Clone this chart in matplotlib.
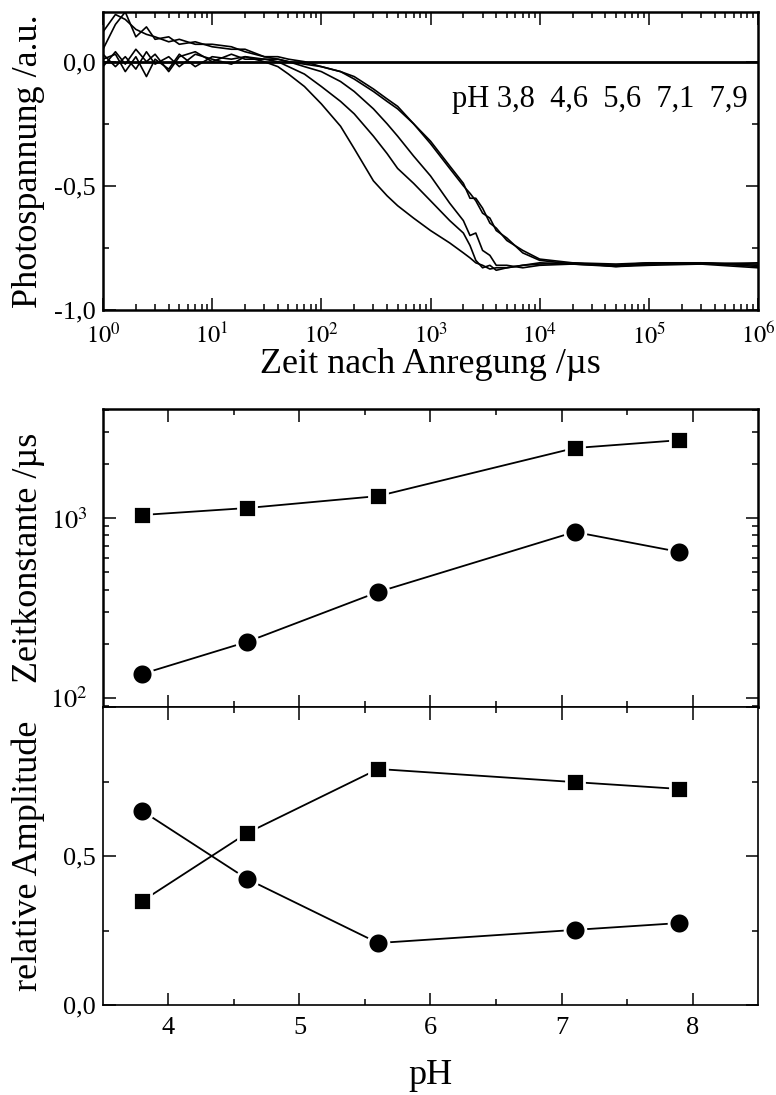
import numpy as np
import matplotlib
matplotlib.use('Agg')
import matplotlib.pyplot as plt
from matplotlib.ticker import FixedLocator, FuncFormatter, LogLocator, NullFormatter

# Transienten der Photospannung
t_us = [1, 1.3, 1.6, 2, 2.5, 3, 4, 5, 7, 10, 15, 20, 30, 40, 50, 70, 100, 150, 200, 300,
        400, 500, 700, 1000, 1500, 2000, 2300, 2600, 3000, 3500, 4000, 5000, 7000,
        1e4, 2e4, 5e4, 1e5, 3e5, 1e6]
u_ph38 = [0.01, 0.03, -0.04, 0.02, -0.06, 0.01, -0.03, 0.03, -0.02, 0.02, 0.01, 0.02, 0.0,
          -0.02, -0.05, -0.10, -0.17, -0.26, -0.35, -0.48, -0.54, -0.58, -0.63, -0.68, -0.73,
          -0.77, -0.79, -0.81, -0.82, -0.835, -0.83, -0.83, -0.82, -0.815, -0.81, -0.815,
          -0.81, -0.81, -0.82]
u_ph46 = [-0.02, 0.04, -0.01, 0.05, 0.0, 0.03, -0.04, 0.02, 0.04, 0.0, 0.03, 0.01, 0.01,
          0.0, -0.02, -0.05, -0.10, -0.16, -0.21, -0.30, -0.37, -0.43, -0.49, -0.56, -0.64,
          -0.69, -0.74, -0.80, -0.83, -0.82, -0.84, -0.83, -0.82, -0.81, -0.815, -0.82,
          -0.815, -0.81, -0.825]
u_ph56 = [0.03, -0.02, 0.02, -0.03, 0.04, -0.01, 0.02, -0.02, 0.03, 0.01, -0.01, 0.02, 0.01,
          0.01, 0.0, -0.02, -0.04, -0.08, -0.12, -0.19, -0.25, -0.30, -0.38, -0.46, -0.57,
          -0.64, -0.70, -0.69, -0.76, -0.78, -0.82, -0.82, -0.83, -0.82, -0.815, -0.825,
          -0.82, -0.815, -0.83]
u_ph71 = [0.12, 0.19, 0.17, 0.13, 0.11, 0.10, 0.08, 0.09, 0.07, 0.07, 0.06, 0.04, 0.02,
          0.01, 0.0, -0.01, -0.02, -0.04, -0.07, -0.12, -0.16, -0.19, -0.25, -0.33, -0.43,
          -0.50, -0.53, -0.56, -0.61, -0.63, -0.68, -0.71, -0.77, -0.80, -0.815, -0.82,
          -0.81, -0.815, -0.81]
u_ph79 = [0.05, 0.15, 0.20, 0.10, 0.14, 0.09, 0.10, 0.07, 0.08, 0.06, 0.05, 0.05, 0.02,
          0.02, 0.01, 0.0, -0.02, -0.04, -0.06, -0.11, -0.15, -0.18, -0.25, -0.32, -0.42,
          -0.49, -0.55, -0.55, -0.59, -0.65, -0.67, -0.72, -0.76, -0.795, -0.81, -0.825,
          -0.815, -0.81, -0.815]
baseline = 0.0
ph_text = 'pH 3,8  4,6  5,6  7,1  7,9'
t_decades = [1, 10, 100, 1e3, 1e4, 1e5, 1e6]

# Fitergebnisse
ph = [3.8, 4.6, 5.6, 7.1, 7.9]
tau_slow = [1040, 1137, 1325, 2450, 2710]
tau_fast = [136, 205, 388, 837, 648]
amp_slow = [0.349, 0.577, 0.792, 0.748, 0.725]
amp_fast = [0.651, 0.423, 0.208, 0.252, 0.275]

plt.rcParams['font.family'] = ['Liberation Serif', 'DejaVu Serif']
plt.rcParams['mathtext.fontset'] = 'stix'
plt.rcParams['xtick.direction'] = 'in'
plt.rcParams['ytick.direction'] = 'in'

W, H = 776, 1095
fig = plt.figure(figsize=(W / 100, H / 100), dpi=100)


def box(l, t, r, b):
    return [l / W, 1 - b / H, (r - l) / W, (b - t) / H]


ax1 = fig.add_axes(box(103, 12, 758, 310))
ax2 = fig.add_axes(box(103, 409, 758, 707))
ax3 = fig.add_axes(box(103, 707, 758, 1005))

comma = FuncFormatter(lambda v, p: ('%.1f' % v).replace('.', ','))
lab_fs = 26
tick_fs = 19

# --- oben: Transienten
for u in [u_ph38, u_ph46, u_ph56, u_ph71, u_ph79]:
    ax1.plot(t_us, u, color='black', lw=1.2)
ax1.axhline(baseline, color='black', lw=2)
ax1.set_xscale('log')
ax1.set_xlim(1, 1e6)
ax1.set_ylim(-1.0, 0.2)
ax1.xaxis.set_major_locator(FixedLocator(t_decades))
ax1.xaxis.set_major_formatter(FuncFormatter(lambda v, p: r'$10^{%d}$' % round(np.log10(v))))
ax1.xaxis.set_minor_locator(LogLocator(base=10, subs=np.arange(2, 10), numticks=10))
ax1.xaxis.set_minor_formatter(NullFormatter())
ax1.yaxis.set_major_locator(FixedLocator([-1.0, -0.5, 0.0]))
ax1.yaxis.set_minor_locator(FixedLocator([-0.75, -0.25]))
ax1.yaxis.set_major_formatter(comma)
ax1.text(0.984, 0.705, ph_text, transform=ax1.transAxes, ha='right', va='center',
         fontsize=22)
ax1.set_ylabel('Photospannung /a.u.', fontsize=lab_fs)
ax1.set_xlabel('Zeit nach Anregung /µs', fontsize=lab_fs, labelpad=0)

# --- Mitte: Zeitkonstanten
ax2.plot(ph, tau_slow, color='black', lw=1.3, marker='s', ms=13, mfc='black',
         mec='white', mew=2)
ax2.plot(ph, tau_fast, color='black', lw=1.3, marker='o', ms=15, mfc='black',
         mec='white', mew=2)
ax2.set_yscale('log')
ax2.set_ylim(89, 4040)
ax2.yaxis.set_major_locator(FixedLocator([100, 1000]))
ax2.yaxis.set_major_formatter(FuncFormatter(lambda v, p: r'$10^{%d}$' % round(np.log10(v))))
ax2.yaxis.set_minor_locator(LogLocator(base=10, subs=np.arange(2, 10), numticks=10))
ax2.yaxis.set_minor_formatter(NullFormatter())
ax2.tick_params(axis='x', labelbottom=False)
ax2.set_ylabel('Zeitkonstante /µs', fontsize=lab_fs)

# --- unten: Amplituden
ax3.plot(ph, amp_slow, color='black', lw=1.3, marker='s', ms=13, mfc='black',
         mec='white', mew=2)
ax3.plot(ph, amp_fast, color='black', lw=1.3, marker='o', ms=15, mfc='black',
         mec='white', mew=2)
ax3.set_ylim(0, 1.0)
ax3.yaxis.set_major_locator(FixedLocator([0.0, 0.5, 1.0]))
ax3.yaxis.set_minor_locator(FixedLocator([0.25, 0.75]))
ax3.yaxis.set_major_formatter(FuncFormatter(lambda v, p: '' if v > 0.9 else ('%.1f' % v).replace('.', ',')))
ax3.set_ylabel('relative Amplitude', fontsize=lab_fs)
ax3.set_xlabel('pH', fontsize=lab_fs, labelpad=14)

for ax in [ax2, ax3]:
    ax.set_xlim(3.5, 8.5)
    ax.xaxis.set_major_locator(FixedLocator([4, 5, 6, 7, 8]))
    ax.xaxis.set_minor_locator(FixedLocator([4.5, 5.5, 6.5, 7.5]))

for ax, sw in [(ax1, 1.8), (ax2, 1.8), (ax3, 1.2)]:
    for s in ax.spines.values():
        s.set_linewidth(sw)
    ax.tick_params(which='both', top=True, right=True, labelsize=tick_fs, width=1.1)
    ax.tick_params(which='major', length=9)
    ax.tick_params(which='minor', length=4.5)
    ax.tick_params(axis='x', pad=9)
    ax.tick_params(axis='y', pad=5)
    ax.yaxis.set_label_coords(-0.088, 0.5)
ax2.tick_params(axis='y', pad=11)
# 10^6 sitzt am rechten Rand
ax1.tick_params(axis='x', labelsize=17.5)

fig.savefig('out.png', dpi=100)
